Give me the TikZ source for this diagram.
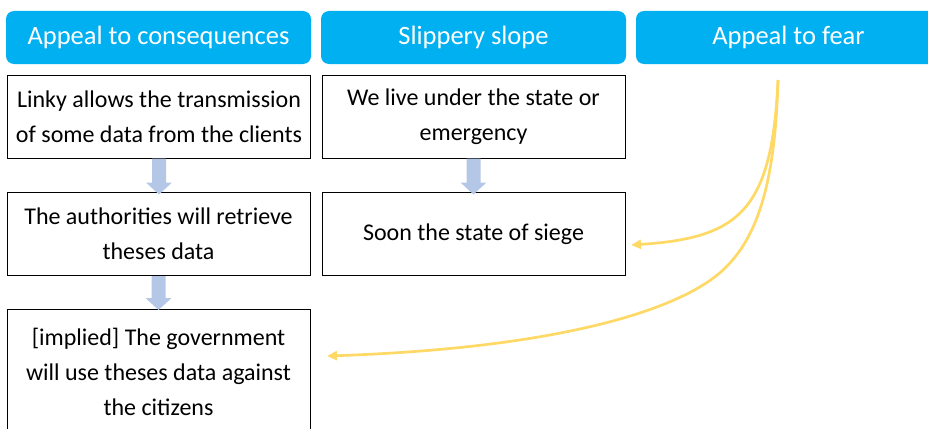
\documentclass[tikz,border=0pt]{standalone}
\usepackage{fontspec}
\setmainfont{Carlito}
\usetikzlibrary{arrows.meta}
\definecolor{hdr}{HTML}{00B0F0}
\definecolor{blk}{HTML}{B4C7E7}
\definecolor{yel}{HTML}{FFD966}
\begin{document}
\begin{tikzpicture}[x=1pt,y=-1pt,
 hdrbox/.style={fill=hdr, rounded corners=8pt, minimum width=305pt, minimum height=53pt, text=white, font=\fontsize{26.5}{30}\selectfont, inner sep=0pt},
 txtbox/.style={draw=black, line width=1pt, minimum width=303pt, minimum height=83pt, align=center, font=\fontsize{24}{35}\selectfont, inner sep=0pt},
 blockarrow/.style={fill=blk},
 fear/.style={draw=yel, line width=2.7pt, -{Triangle[length=10pt,width=9pt]}}]
\useasboundingbox (0,0) rectangle (928,428);
% headers
\node[hdrbox] (h1) at (158.5,37.5) {Appeal to consequences};
\node[hdrbox] (h2) at (473.5,37.5) {Slippery slope};
\node[hdrbox] (h3) at (788.5,37.5) {Appeal to fear};
% boxes
\node[txtbox] (a1) at (159,116.5) {Linky allows the transmission\\of some data from the clients};
\node[txtbox] (b1) at (473.5,116.5) {We live under the state or\\emergency};
\node[txtbox] (a2) at (158.5,234) {The authorities will retrieve\\theses data};
\node[txtbox] (b2) at (473.5,234) {Soon the state of siege};
\node[txtbox, minimum height=125pt] (a3) at (158.5,371.5) {[implied] The government\\will use theses data against\\the citizens};
% block arrows
\fill[blockarrow] (a1.south) ++(-7,0) -- ++(0,24) -- ++(-6,0) -- ++(13,12) -- ++(13,-12) -- ++(-6,0) -- ++(0,-24) -- cycle;
\fill[blockarrow] (b1.south) ++(-7,0) -- ++(0,24) -- ++(-6,0) -- ++(13,12) -- ++(13,-12) -- ++(-6,0) -- ++(0,-24) -- cycle;
\fill[blockarrow] (a2.south) ++(-7,0) -- ++(0,22) -- ++(-6,0) -- ++(13,12) -- ++(13,-12) -- ++(-6,0) -- ++(0,-22) -- cycle;
% fear arrows
\coordinate (fs) at (778,80);
\coordinate (e1) at (631,245);
\coordinate (e2) at (327,356);
\draw[fear] (fs) .. controls (772,210) and (740,238) .. (e1);
\draw[fear] (fs) .. controls (775,190) and (755,240) .. (723,270) .. controls (680,310) and (560,348) .. (e2);
\end{tikzpicture}
\end{document}
